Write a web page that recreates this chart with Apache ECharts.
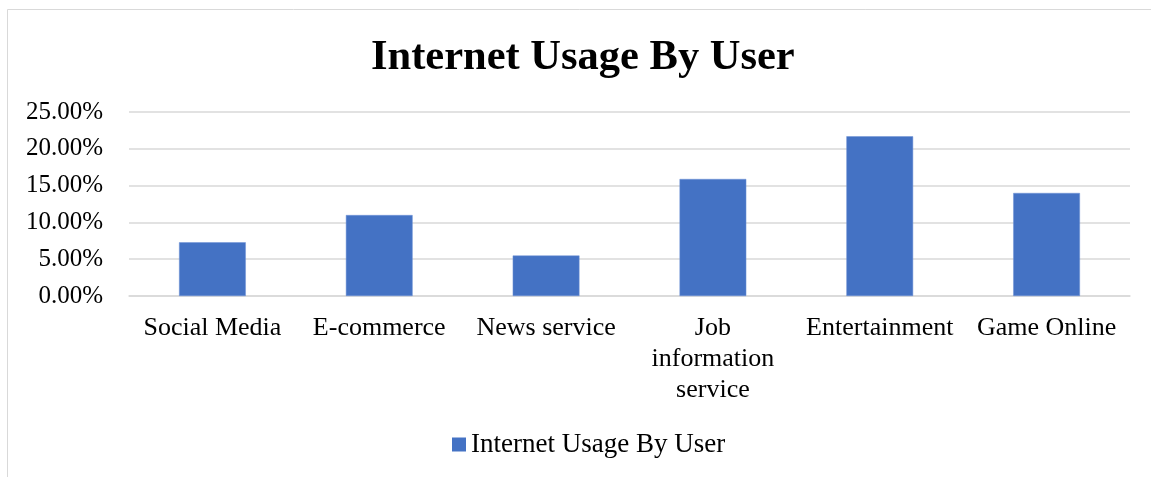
<!DOCTYPE html>
<html>
<head>
<meta charset="utf-8">
<script src="https://cdn.jsdelivr.net/npm/echarts@6/dist/echarts.min.js"></script>
<style>
html,body{margin:0;padding:0;background:#fff;}
#chart{width:1151px;height:477px;}
</style>
</head>
<body>
<div id="chart"></div>
<script>
const titleText = 'Internet Usage By User';
const seriesName = 'Internet Usage By User';
const categories = ['Social Media', 'E-commerce', 'News service', 'Job information service', 'Entertainment', 'Game Online'];
const values = [0.073, 0.110, 0.055, 0.159, 0.217, 0.140];
const yTicks = [0, 0.05, 0.10, 0.15, 0.20, 0.25];

const FONT = '"Liberation Serif", "Times New Roman", serif';
const chart = echarts.init(document.getElementById('chart'), null, {renderer: 'canvas'});
chart.setOption({
  backgroundColor: '#ffffff',
  animation: false,
  graphic: [{
    type: 'rect',
    shape: {x: 7.5, y: 9.5, width: 1200, height: 600},
    style: {fill: 'none', stroke: '#d9d9d9', lineWidth: 1},
    silent: true, z: -1
  }],
  title: {
    text: titleText,
    left: 366,
    top: 32,
    textStyle: {fontFamily: FONT, fontWeight: 'bold', fontSize: 42.5, color: '#000'}
  },
  legend: {
    bottom: 14,
    left: 447,
    icon: 'rect',
    itemWidth: 14,
    itemHeight: 14,
    itemGap: 10,
    itemStyle: {borderWidth: 0},
    textStyle: {fontFamily: FONT, fontSize: 27, color: '#000', padding: [0,0,0,0]},
    data: [seriesName]
  },
  grid: {left: 129, right: 21, top: 112, bottom: 181, containLabel: false},
  xAxis: {
    type: 'category',
    data: categories,
    axisLine: {show: true, lineStyle: {color: '#d9d9d9', width: 1.5}},
    axisTick: {show: false},
    axisLabel: {
      fontFamily: FONT, fontSize: 26, color: '#000', margin: 17, lineHeight: 31,
      interval: 0,
      formatter: v => v.length > 15 ? v.split(' ').join('\n') : v
    }
  },
  yAxis: {
    type: 'value',
    min: yTicks[0],
    max: yTicks[yTicks.length - 1],
    interval: 0.05,
    axisLine: {show: false},
    axisTick: {show: false},
    splitLine: {lineStyle: {color: '#d9d9d9', width: 1.5}},
    axisLabel: {
      fontFamily: FONT, fontSize: 25, color: '#000', margin: 26,
      formatter: v => (v * 100).toFixed(2) + '%'
    }
  },
  series: [{
    name: seriesName,
    type: 'bar',
    data: values,
    barWidth: '40%',
    itemStyle: {color: '#4472C4', borderColor: '#6f93d6', borderWidth: 0.5}
  }]
});
</script>
</body>
</html>
